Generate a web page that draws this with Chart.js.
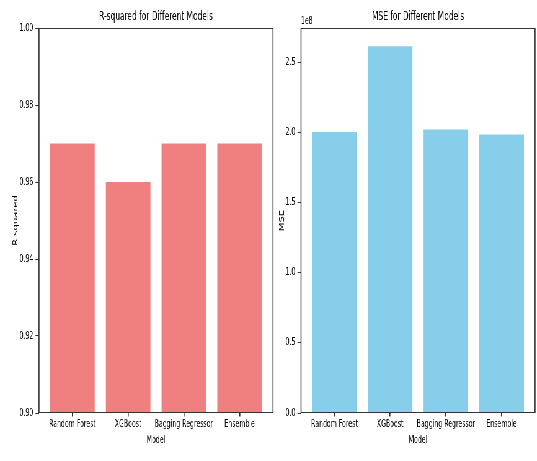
<!DOCTYPE html>
<html>
<head>
<meta charset="utf-8">
<script src="https://cdn.jsdelivr.net/npm/chart.js@4.4.1/dist/chart.umd.min.js"></script>
<style>
  html, body { margin: 0; padding: 0; background: #ffffff; }
  #wrap { position: absolute; left: 0; top: 0; width: 866px; height: 461px;
          transform: scaleX(0.62); transform-origin: 0 0; }
  #cA { position: absolute; left: 0; top: 0; }
  #cB { position: absolute; left: 440px; top: 0; }
</style>
</head>
<body>
<div id="wrap">
  <canvas id="cA" width="450" height="461"></canvas>
  <canvas id="cB" width="426" height="461"></canvas>
</div>
<script>
const models = ['Random Forest', 'XGBoost', 'Bagging Regressor', 'Ensemble'];
const r2Values = [0.97, 0.96, 0.97, 0.97];
const mseValues = [2.003e8, 2.614e8, 2.022e8, 1.986e8];
const r2Ticks = [0.90, 0.92, 0.94, 0.96, 0.98, 1.00];
const mseTicks = [0, 0.5e8, 1.0e8, 1.5e8, 2.0e8, 2.5e8];

const SX = 0.62;
const FONT = "'DejaVu Sans', sans-serif";
const TXT = '#000000';
const LINE = '#333333';

Chart.defaults.font.family = FONT;
Chart.defaults.color = TXT;

const framePlugin = {
  id: 'frame',
  afterDraw(chart, args, opts) {
    const a = chart.chartArea, ctx = chart.ctx;
    ctx.save();
    ctx.strokeStyle = LINE;
    ctx.lineWidth = 1;
    ctx.beginPath();
    ctx.moveTo(a.left, a.top + 0.5); ctx.lineTo(a.right, a.top + 0.5);
    ctx.moveTo(a.left, a.bottom - 0.5); ctx.lineTo(a.right, a.bottom - 0.5);
    ctx.stroke();
    ctx.lineWidth = 1 / SX;
    ctx.beginPath();
    ctx.moveTo(a.left, a.top); ctx.lineTo(a.left, a.bottom);
    ctx.moveTo(a.right, a.top); ctx.lineTo(a.right, a.bottom);
    ctx.stroke();
    if (opts && opts.exponent) {
      ctx.fillStyle = TXT;
      ctx.font = '10px ' + FONT;
      ctx.textAlign = 'left';
      ctx.textBaseline = 'middle';
      ctx.fillText(opts.exponent, a.left, 21);
    }
    ctx.restore();
  }
};

function makeChart(canvasId, cfg) {
  const data = cfg.values.map((v, i) => ({ x: i, y: v }));
  return new Chart(document.getElementById(canvasId), {
    type: 'bar',
    data: {
      datasets: [{
        data: data,
        backgroundColor: cfg.color,
        borderWidth: 0,
        barPercentage: 0.8,
        categoryPercentage: 1.0
      }]
    },
    options: {
      responsive: false,
      animation: false,
      events: [],
      layout: { padding: { left: 0, top: 0, right: cfg.padRight, bottom: 0 } },
      plugins: {
        legend: { display: false },
        tooltip: { enabled: false },
        title: {
          display: true,
          fullSize: false,
          text: cfg.title,
          color: TXT,
          font: { size: 12, weight: 'normal', family: FONT, lineHeight: 1.2 },
          padding: { top: 10.1, bottom: 3.5 }
        },
        frame: { exponent: cfg.exponent }
      },
      scales: {
        x: {
          type: 'linear',
          min: -0.6,
          max: 3.6,
          offset: false,
          afterBuildTicks(scale) { scale.ticks = models.map((m, i) => ({ value: i })); },
          afterFit(scale) { scale.height = 48; },
          ticks: {
            callback: (v) => models[Math.round(v)],
            font: { size: 10, family: FONT },
            color: TXT,
            padding: 1.5,
            maxRotation: 0,
            autoSkip: false
          },
          grid: { drawOnChartArea: false, drawTicks: true, tickLength: 3.5, color: LINE, lineWidth: 1 / SX, offset: false },
          border: { display: false },
          title: {
            display: true, text: 'Model', color: TXT,
            font: { size: 10, family: FONT, lineHeight: 1.2 },
            padding: { top: 0, bottom: 15 }
          }
        },
        y: {
          type: 'linear',
          min: cfg.yMin,
          max: cfg.yMax,
          afterBuildTicks(scale) { scale.ticks = cfg.yTicks.map(v => ({ value: v })); },
          afterFit(scale) { scale.width = cfg.yWidth; },
          ticks: {
            callback: cfg.tickFmt,
            font: { size: 10, family: FONT },
            color: TXT,
            padding: 2.2 / SX
          },
          grid: { drawOnChartArea: false, drawTicks: true, tickLength: 3.5 / SX, color: LINE, lineWidth: 1 },
          border: { display: false },
          title: {
            display: true, text: cfg.yTitle, color: TXT,
            font: { size: 10, family: FONT, lineHeight: 1.2 },
            padding: { top: cfg.yTitlePad, bottom: 0 }
          }
        }
      }
    },
    plugins: [framePlugin]
  });
}

makeChart('cA', {
  values: r2Values, color: '#F08080', title: 'R-squared for Different Models',
  yMin: 0.90, yMax: 1.00, yTicks: r2Ticks, tickFmt: (v) => v.toFixed(2),
  yTitle: 'R-squared', yWidth: 62.9, yTitlePad: 19.8, padRight: 9.7, exponent: null
});

makeChart('cB', {
  values: mseValues, color: '#87CEEB', title: 'MSE for Different Models',
  yMin: 0, yMax: 2.745e8, yTicks: mseTicks, tickFmt: (v) => (v / 1e8).toFixed(1),
  yTitle: 'MSE', yWidth: 45.5, yTitlePad: 9.6, padRight: 3.1, exponent: '1e8'
});
</script>
</body>
</html>
